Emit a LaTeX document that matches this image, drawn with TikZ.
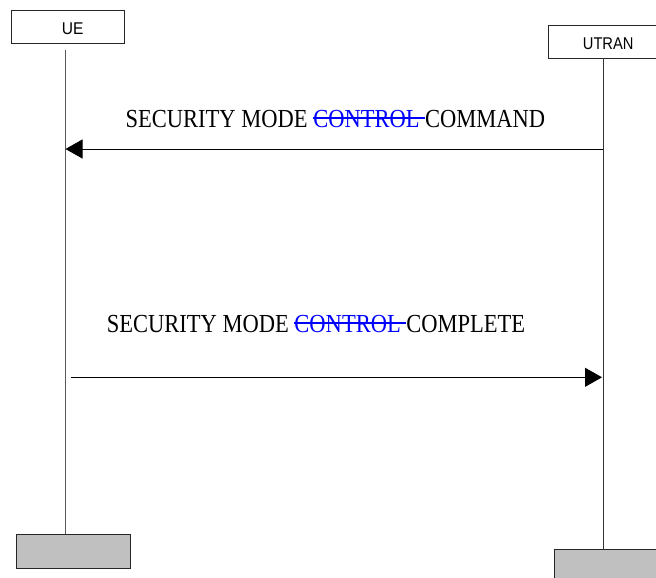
\documentclass[tikz,border=0pt]{standalone}
\usepackage{fontspec}
\setmainfont{Liberation Serif}
\newfontfamily\labelfont{Liberation Sans}
\usetikzlibrary{arrows.meta}
\newcommand{\strk}[1]{\begingroup\setbox0\hbox{#1}\rlap{\rule[0.33em]{\wd0}{0.06em}}\box0\endgroup}
\begin{document}
\begin{tikzpicture}[x=1pt,y=-1pt,
  entbox/.style={draw=black!85, line width=0.8pt, fill=white, inner sep=0pt, anchor=north west, minimum width=113.3pt, minimum height=33.3pt},
  endbox/.style={draw=black!85, line width=0.8pt, fill={rgb,255:red,192;green,192;blue,192}, inner sep=0pt, anchor=north west, minimum width=114pt, minimum height=34.5pt},
  entlabel/.style={inner sep=0pt, anchor=base west, font=\labelfont\fontsize{17}{20}\selectfont},
  lifeline/.style={draw=black!65, line width=0.9pt},
  msg/.style={inner sep=0pt, anchor=base west, font=\fontsize{26}{30}\selectfont},
  msgarrow/.style={draw=black, line width=0.9pt, -{Triangle[length=17pt,width=19pt]}}
]
\useasboundingbox (0,0) rectangle (656,578);
\clip (0,0) rectangle (656,578);

% entity boxes
\node[entbox] (ueBox) at (11,10) {};
\node[entlabel] (ueLbl) at (61.7,34.3) {\resizebox{21.6pt}{\height}{UE}};
\node[entbox, minimum width=125pt] (utBox) at (547.7,25) {};
\node[entlabel] (utLbl) at (582.7,50) {\resizebox{50.6pt}{\height}{UTRAN}};

% bottom boxes
\node[endbox] (ueEnd) at (16,533.5) {};
\node[endbox, minimum width=120pt] (utEnd) at (554.4,548.7) {};

% lifelines
\coordinate (ueTop) at (65,50);
\coordinate (ueBot) at (65,533.5);
\coordinate (utTop) at (603.3,58.3);
\coordinate (utBot) at (603.3,548.7);
\draw[lifeline] (ueTop) -- (ueBot);
\draw[lifeline, draw=black!80] (utTop) -- (utBot);

% message 1
\coordinate (a1s) at (603.3,149);
\coordinate (a1e) at (65.5,149);
\draw[msgarrow] (a1s) -- (a1e);
\node[msg] (m1) at (125.5,127.3) {\resizebox{419.5pt}{\height}{SECURITY MODE \textcolor{blue}{\strk{CONTROL }}COMMAND}};

% message 2
\coordinate (a2s) at (71,377.3);
\coordinate (a2e) at (602,377.3);
\draw[msgarrow] (a2s) -- (a2e);
\node[msg] (m2) at (106.7,332.3) {\resizebox{418.3pt}{\height}{SECURITY MODE \textcolor{blue}{\strk{CONTROL }}COMPLETE}};
\end{tikzpicture}
\end{document}
